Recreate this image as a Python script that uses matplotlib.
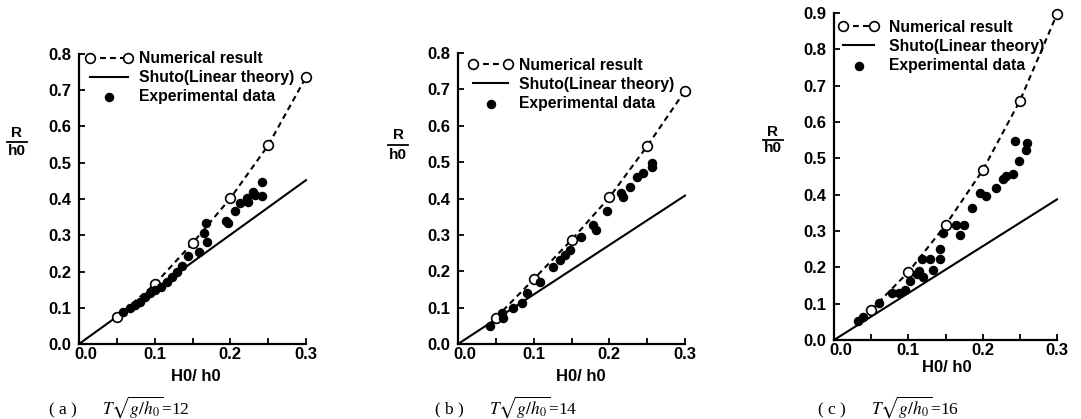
import matplotlib
matplotlib.use("Agg")
import matplotlib.pyplot as plt
from matplotlib.lines import Line2D
from matplotlib.transforms import ScaledTranslation

plt.rcParams['font.family'] = ['Liberation Sans', 'DejaVu Sans']
plt.rcParams['mathtext.fontset'] = 'stix'

### numerical result (open circles, dashed)
num_x = [0.05, 0.10, 0.15, 0.20, 0.25, 0.30]
num_a = [0.075, 0.165, 0.278, 0.402, 0.548, 0.736]
num_b = [0.072, 0.178, 0.286, 0.403, 0.544, 0.696]
num_c = [0.083, 0.187, 0.316, 0.467, 0.658, 0.897]

### Shuto linear theory (straight line from origin)
shuto_x = [0.0, 0.3]
shuto_a = [0.0, 0.452]
shuto_b = [0.0, 0.408]
shuto_c = [0.0, 0.387]

### experimental data
exp_a_x = [0.0585, 0.0674, 0.074, 0.0806, 0.0872, 0.0938, 0.1004, 0.109, 0.116, 0.1225,
           0.129, 0.136, 0.144, 0.158, 0.169, 0.165, 0.168, 0.194, 0.197, 0.206,
           0.213, 0.2216, 0.224, 0.230, 0.2326, 0.2415, 0.2415]
exp_a_y = [0.089, 0.099, 0.108, 0.117, 0.131, 0.140, 0.149, 0.158, 0.172, 0.186,
           0.200, 0.214, 0.243, 0.255, 0.280, 0.305, 0.334, 0.340, 0.335, 0.368,
           0.388, 0.402, 0.393, 0.420, 0.411, 0.408, 0.447]

exp_b_x = [0.0423, 0.0599, 0.0577, 0.0731, 0.0842, 0.0908, 0.108, 0.125, 0.135, 0.141,
           0.148, 0.163, 0.179, 0.183, 0.197, 0.218, 0.216, 0.227, 0.236, 0.245,
           0.256, 0.256]
exp_b_y = [0.049, 0.071, 0.084, 0.098, 0.113, 0.139, 0.171, 0.212, 0.231, 0.245,
           0.258, 0.293, 0.327, 0.313, 0.366, 0.405, 0.414, 0.432, 0.458, 0.471,
           0.498, 0.487]

exp_c_x = [0.0327, 0.0394, 0.061, 0.0775, 0.088, 0.0954, 0.102, 0.111, 0.115, 0.120,
           0.118, 0.129, 0.1326, 0.1425, 0.1425, 0.147, 0.164, 0.169, 0.175, 0.185,
           0.196, 0.204, 0.218, 0.2276, 0.231, 0.241, 0.249, 0.243, 0.258, 0.260]
exp_c_y = [0.052, 0.064, 0.101, 0.130, 0.128, 0.138, 0.162, 0.183, 0.190, 0.174,
           0.224, 0.222, 0.193, 0.222, 0.251, 0.295, 0.317, 0.288, 0.316, 0.364,
           0.405, 0.396, 0.419, 0.442, 0.451, 0.456, 0.493, 0.548, 0.523, 0.543]

labels = ['Numerical result', 'Shuto(Linear theory)', 'Experimental data']
xtick_labels = ['0.0', '0.1', '0.2', '0.3']
captions = [r'( a )      $T\sqrt{g/h_0}$=12', r'( b )      $T\sqrt{g/h_0}$=14', r'( c )      $T\sqrt{g/h_0}$=16']

W, H = 1081, 419
fig = plt.figure(figsize=(W / 100, H / 100), dpi=100)

def px(x0, y0, x1, y1):
    # pixel box -> figure fraction
    return [x0 / W, (H - y1) / H, (x1 - x0) / W, (y1 - y0) / H]

panels = [
    dict(box=(79, 54, 306, 344), ymax=0.8, num=num_a, sh=shuto_a, ex=(exp_a_x, exp_a_y),
         leg=(0.028, 1.01), hl=3.0, hp=0.42, frac=(17, 133, 151, 142, 19),
         xlab=(196, 376), cap=(48, 407)),
    dict(box=(458, 53, 685, 344), ymax=0.8, num=num_b, sh=shuto_b, ex=(exp_b_x, exp_b_y),
         leg=(0.046, 0.983), hl=2.82, hp=0.42, frac=(398, 135, 155, 145, 20),
         xlab=(581, 376), cap=(434, 407)),
    dict(box=(834, 13, 1057, 340), ymax=0.9, num=num_c, sh=shuto_c, ex=(exp_c_x, exp_c_y),
         leg=(0.02, 0.979), hl=2.56, hp=0.68, frac=(773, 132, 148, 140, 20),
         xlab=(947, 367), cap=(817, 407)),
]

for p in panels:
    ax = fig.add_axes(px(*p['box']))
    l1, = ax.plot(num_x, p['num'], color='black', lw=1.5, dashes=(2.8, 2.0),
                  marker='o', ms=7, mfc='white', mec='black', mew=1.2, clip_on=False, zorder=3)
    l2, = ax.plot(shuto_x, p['sh'], color='black', lw=1.5, clip_on=False)
    sc = ax.scatter(p['ex'][0], p['ex'][1], s=34, color='black', zorder=4, clip_on=False)

    ax.set_xlim(0, 0.3)
    ax.set_ylim(0, p['ymax'])
    ax.set_xticks([0.0, 0.1, 0.2, 0.3])
    ax.set_xticklabels(xtick_labels)
    ax.set_xticks([0.05, 0.15, 0.25], minor=True)
    yt = [i / 10 for i in range(int(round(p['ymax'] * 10)) + 1)]
    ax.set_yticks(yt)
    ax.set_yticklabels(['%.1f' % v for v in yt])
    for s in ['top', 'right']:
        ax.spines[s].set_visible(False)
    for s in ['left', 'bottom']:
        ax.spines[s].set_linewidth(1.6)
    ax.tick_params(which='both', direction='in', length=4, width=1.3, labelsize=12)
    ax.tick_params(axis='x', pad=2)
    ax.tick_params(axis='y', pad=5.5)
    for t in ax.get_xticklabels() + ax.get_yticklabels():
        t.set_fontweight('bold')
    # the x "0.0" sits a little right of the origin, clear of the y "0.0"
    lab0 = ax.xaxis.get_majorticklabels()[0]
    lab0.set_transform(lab0.get_transform() + ScaledTranslation(5 / 72, 0, fig.dpi_scale_trans))

    ax.legend([l1, l2, sc], labels, loc='upper left', bbox_to_anchor=p['leg'],
              frameon=False, borderpad=0, borderaxespad=0, numpoints=2, scatterpoints=1,
              handlelength=p['hl'], handletextpad=p['hp'], labelspacing=0.25,
              prop=dict(size=11.3, weight='bold'))

    # R / h0 fraction label
    fx, ry, hy, by, bw = p['frac']
    fig.text(fx / W, (H - ry) / H, 'R', ha='center', va='center', fontsize=11, fontweight='bold')
    fig.text(fx / W, (H - hy) / H, 'h0', ha='center', va='center', fontsize=11, fontweight='bold')
    fig.add_artist(Line2D([(fx - bw / 2) / W, (fx + bw / 2) / W], [(H - by) / H] * 2,
                          transform=fig.transFigure, color='black', lw=1.3))

    fig.text(p['xlab'][0] / W, (H - p['xlab'][1]) / H, 'H0/ h0', ha='center', va='center',
             fontsize=12, fontweight='bold')

for p, c in zip(panels, captions):
    fig.text(p['cap'][0] / W, (H - p['cap'][1]) / H, c, ha='left', va='center',
             fontsize=12.5, family='Liberation Serif')

fig.savefig('out.png', dpi=100)
